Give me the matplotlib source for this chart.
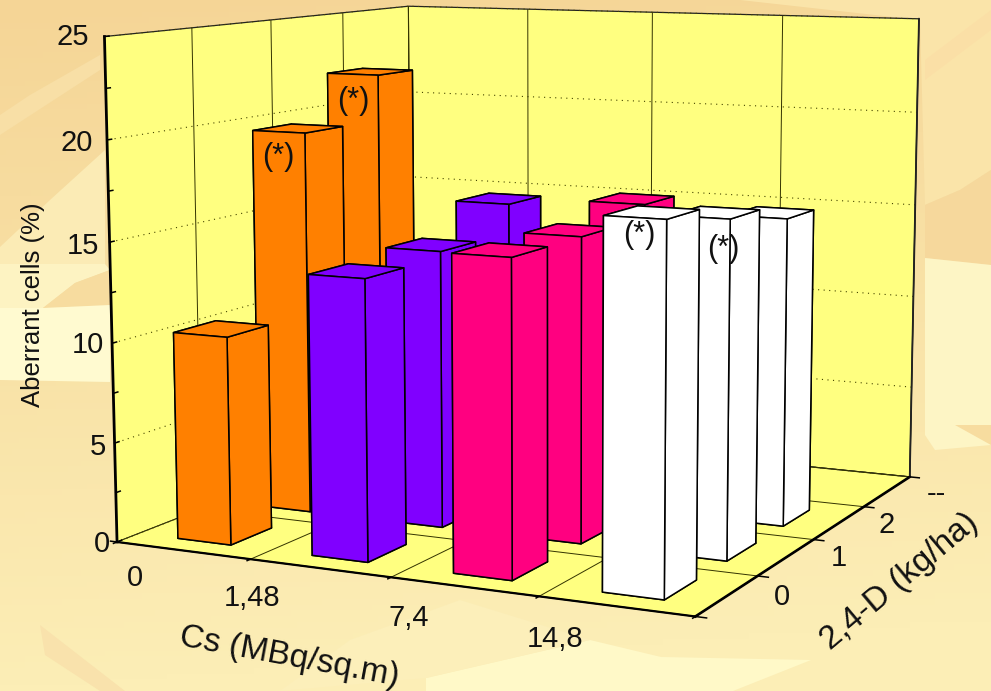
import numpy as np
import matplotlib
matplotlib.use("Agg")
import matplotlib.pyplot as plt

plt.rcParams['font.family'] = ['Liberation Sans', 'DejaVu Sans']

# Aberrant cells (%) for 2,4-D = 0, 1, 2 kg/ha
orange = [10.4, 19.7, 22.1]
purple = [13.8, 14.1, 15.6]
pink = [15.3, 15.3, 16.0]
white = [17.5, 16.6, 15.7]
dose_colors = ['#FF8000', '#8000FF', '#FF0080', '#FFFFFF']

cs_labels = ['0', '1,48', '7,4', '14,8']
d_labels = ['0', '1', '2', '--']
z_labels = ['0', '5', '10', '15', '20', '25']

W_PX, H_PX = 991, 691


def put(x, y, s, **kw):
    # text placed by pixel position of the reference
    kw.setdefault('color', '#111111')
    fig.text(x / W_PX, 1 - y / H_PX, s, ha='center', va='center', rotation_mode='anchor', **kw)


fig = plt.figure(figsize=(W_PX / 100, H_PX / 100), dpi=100)

# background
bg = fig.add_axes([0, 0, 1, 1], zorder=-1)
yy, xx = np.mgrid[0:1:120j, 0:1:160j]
t = np.clip(0.1 * xx + 1.0 * yy, 0, 1)[..., None]
bg.imshow((1 - t) * np.array([245, 213, 150]) / 255 + t * np.array([252, 238, 182]) / 255,
          extent=(0, W_PX, H_PX, 0), aspect='auto', zorder=0)
shapes = [
    ([(0, 115), (30, 95), (100, 55), (100, 70), (0, 135)], '#F8DFA6'),
    ([(0, 247), (50, 200), (105, 150), (105, 264), (0, 264)], '#FBEBB5'),
    ([(0, 264), (105, 264), (110, 270), (75, 283), (43, 308), (0, 308)], '#FDF3C2'),
    ([(43, 308), (75, 283), (110, 270), (110, 305)], '#F7DC9F'),
    ([(0, 308), (43, 308), (110, 305), (110, 382), (0, 380)], '#FFFAD0'),
    ([(40, 625), (125, 691), (100, 691), (45, 655)], '#F9E2AC'),
    ([(740, 0), (991, 0), (991, 170), (960, 190), (925, 205), (920, 20)], '#FAE4A9'),
    ([(925, 60), (991, 10), (991, 30), (925, 80)], '#FADFA6'),
    ([(925, 205), (960, 190), (991, 170), (991, 265), (925, 258)], '#F6D89C'),
    ([(925, 258), (991, 265), (991, 445), (935, 450), (925, 435)], '#FDF5C5'),
    ([(955, 425), (991, 425), (991, 445)], '#F7DC9F'),
    ([(426, 678), (590, 640), (661, 657), (811, 660), (733, 691), (426, 691)], '#FFF9C8'),
    ([(280, 691), (350, 640), (460, 600), (590, 640), (426, 678)], '#FCEFBA'),
]
for poly, col in shapes:
    bg.fill(*zip(*poly), color=col, lw=0, zorder=1)
bg.set_xlim(0, W_PX)
bg.set_ylim(H_PX, 0)
bg.axis('off')

# chart
ax = fig.add_axes([0.0463, -0.0964, 0.9568, 1.3721], projection='3d')
ax.set_facecolor('none')
ax.view_init(elev=8.5842, azim=-64.1385, roll=0.0716)
ax.set_proj_type('persp', focal_length=0.5261)
ax.set_box_aspect((1.2378, 1.2276, 1))
ax.computed_zorder = False

edges = np.arange(-0.5, 4)
z_ticks = [0, 5, 10, 15, 20, 25]
z_minor = [2.5, 7.5, 12.5, 17.5, 22.5]
ax.set_xticks(edges)
ax.set_yticks(edges)
ax.set_zticks(z_ticks)
ax.set_xticklabels([])
ax.set_yticklabels([])
ax.set_zticklabels([])
for axis in (ax.xaxis, ax.yaxis, ax.zaxis):
    axis.set_pane_color('#FFFF80')
    axis.pane.set_edgecolor('#222222')
    axis.pane.set_linewidth(0.9)
    axis.line.set_color((0, 0, 0, 0))
    axis._axinfo['tick']['inward_factor'] = 0
    axis._axinfo['tick']['outward_factor'] = 0
    axis._axinfo['grid'].update(color='#333300', linewidth=0.7, linestyle='-')
ax.zaxis._axinfo['grid'].update(color='#444400', linewidth=0.8, linestyle=(0, (1, 4)))

for j in [2, 1, 0]:
    for i, vals in enumerate([orange, purple, pink, white]):
        ax.bar3d(i - 0.2, j - 0.25, 0, 0.4, 0.5, vals[j], color=dose_colors[i], edgecolor='k',
                 linewidth=1.1, shade=False, zorder=10 + (2 - j) * 4 + i)

# axis lines and tick stubs
x0, x1, y0, y1 = edges[0], edges[-1], edges[0], edges[-1]
ax.plot([x0, x1], [y0, y0], [0, 0], color='k', lw=1.6, zorder=5)
ax.plot([x1, x1], [y0, y1], [0, 0], color='k', lw=1.9, zorder=5)
ax.plot([x0, x0], [y0, y0], [0, 25], color='k', lw=2.0, zorder=5)
ax.plot([x1, x1], [y1, y1], [0, 25], color='#222222', lw=1.3, zorder=5)
for e in edges:
    ax.plot([e, e], [y0, y0 - 0.04], [0, 0], color='k', lw=1.1, zorder=5)
    ax.plot([x1, x1 + 0.07], [e, e], [0, 0], color='k', lw=1.1, zorder=5)
for z in z_ticks + z_minor:
    ax.plot([x0, x0], [y0, y0 + 0.05], [z, z], color='k', lw=1.1, zorder=5)
ax.plot([x0, x0 - 0.05], [y0, y0], [0, 0], color='k', lw=1.1, zorder=5)

ax.set_xlim(x0, x1, view_margin=0)
ax.set_ylim(y0, y1, view_margin=0)
ax.set_zlim(0, 25, view_margin=0)

# labels
for (x, y), s in zip([(102, 544), (98, 447), (88, 345), (83, 246), (77, 143), (73, 37)], z_labels):
    put(x, y, s, fontsize=21)
for (x, y), s in zip([(135, 578), (252, 598), (409, 618), (555, 639)], cs_labels):
    put(x, y, s, fontsize=21)
for (x, y), s in zip([(782, 597), (839, 558), (887, 525), (936, 494)], d_labels):
    put(x, y, s, fontsize=21)
put(33, 305, 'Aberrant cells (%)', fontsize=18.5, rotation=90)
put(289, 657, 'Cs (MBq/sq.m)', fontsize=24, rotation=-10.5)
put(900, 581, '2,4-D (kg/ha)', fontsize=24, rotation=40)
for (x, y) in [(278, 157), (353, 101), (639, 235), (723, 249)]:
    put(x, y, '(*)', fontsize=22)

fig.savefig("out.png", dpi=100)
